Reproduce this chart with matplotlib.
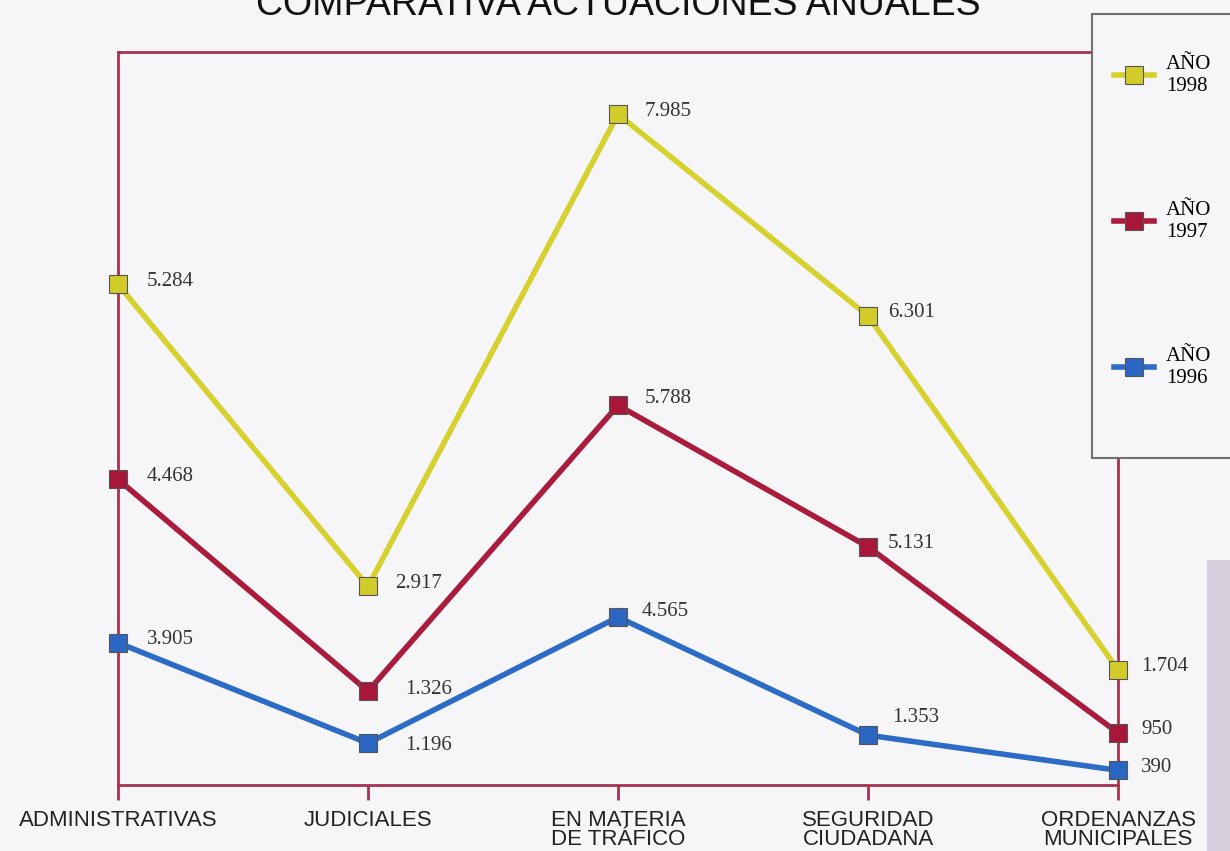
import matplotlib.pyplot as plt
from matplotlib.patches import Rectangle

# datos del grafico
categorias = ["ADMINISTRATIVAS", "JUDICIALES", "EN MATERIA\nDE TRÁFICO",
              "SEGURIDAD\nCIUDADANA", "ORDENANZAS\nMUNICIPALES"]
anios = ["1998", "1997", "1996"]
valores_1998 = [5284, 2917, 7985, 6301, 1704]
valores_1997 = [4468, 1326, 5788, 5131, 950]
valores_1996 = [3905, 1196, 4565, 1353, 390]
# el original no usa una escala lineal: altura dibujada de cada punto (% del alto del marco)
altura_1998 = [68.3, 27.1, 91.5, 64.0, 15.7]
altura_1997 = [41.7, 12.8, 51.8, 32.5, 7.1]
altura_1996 = [19.4, 5.7, 22.9, 6.8, 2.0]

colores = {"1998": ("#d6d12f", "#d2cc2a"), "1997": ("#ab1b3c", "#a8173a"),
           "1996": ("#2d6cc6", "#2a66c2")}
marco = "#a8324f"
fondo = "#f6f6f8"

def fmt(v):
    return "{:,}".format(v).replace(",", ".")

# desplazamiento de las etiquetas en pixeles
dx_cat = [29, 27, 27, 20, 23]
ajustes = {("1997", 1): (37, 2), ("1996", 1): (37, -2), ("1996", 2): (24, 6),
           ("1996", 3): (24, 18), ("1997", 2): (27, 7)}

fig = plt.figure(figsize=(12.3, 8.51), dpi=100, facecolor=fondo)
ax = fig.add_axes([118/1230, 66/851, 1000/1230, 733/851], facecolor=fondo)

x = list(range(len(categorias)))
series = [("1998", valores_1998, altura_1998),
          ("1997", valores_1997, altura_1997),
          ("1996", valores_1996, altura_1996)]
lineas = []
for anio, vals, alt in series:
    lc, mc = colores[anio]
    l, = ax.plot(x, alt, color=lc, lw=4, marker="s", markersize=12.5,
                 markerfacecolor=mc, markeredgecolor="#555555", markeredgewidth=0.8,
                 clip_on=False, zorder=4, label="AÑO\n" + anio)
    lineas.append(l)
    for i, (v, h) in enumerate(zip(vals, alt)):
        dx, dy = ajustes.get((anio, i), (dx_cat[i], 3))
        ax.annotate(fmt(v), (i, h), xytext=(dx*0.72, dy*0.72), textcoords="offset points",
                    ha="left", va="center", fontsize=15, family="Liberation Serif",
                    color="#333333", zorder=5, annotation_clip=False)

ax.set_xlim(0, 4)
ax.set_ylim(0, 100)
for s in ax.spines.values():
    s.set_color(marco)
    s.set_linewidth(2)
ax.set_yticks([])
ax.set_xticks(x)
ax.set_xticklabels(categorias, family="Liberation Sans", fontsize=16, color="#222222",
                   linespacing=0.85)
ax.tick_params(axis="x", direction="out", length=11, width=2, color=marco, pad=7)

# recuadro de la leyenda
fig.patches.append(Rectangle((1092/1230, (851-458)/851), 0.2, 444/851,
                             transform=fig.transFigure, facecolor=fondo,
                             edgecolor="#707070", lw=1.5, zorder=3))
fig.patches.append(Rectangle((1207/1230, 0), 0.05, 291/851, transform=fig.transFigure,
                             facecolor="#d6d0de", edgecolor="none", zorder=0.5))
fig.legend(handles=lineas, loc="upper left", bbox_to_anchor=(1114/1230, 1-55/851),
           frameon=False, borderpad=0, borderaxespad=0, handlelength=1.9,
           handletextpad=0.6, labelspacing=5.05,
           prop={"family": "Liberation Serif", "size": 15})

fig.text(0.503, 1-15/851, "COMPARATIVA ACTUACIONES ANUALES", ha="center", va="baseline",
         fontsize=27, family="Liberation Sans", color="#111111")

fig.savefig("out.png", dpi=100, facecolor=fondo)
